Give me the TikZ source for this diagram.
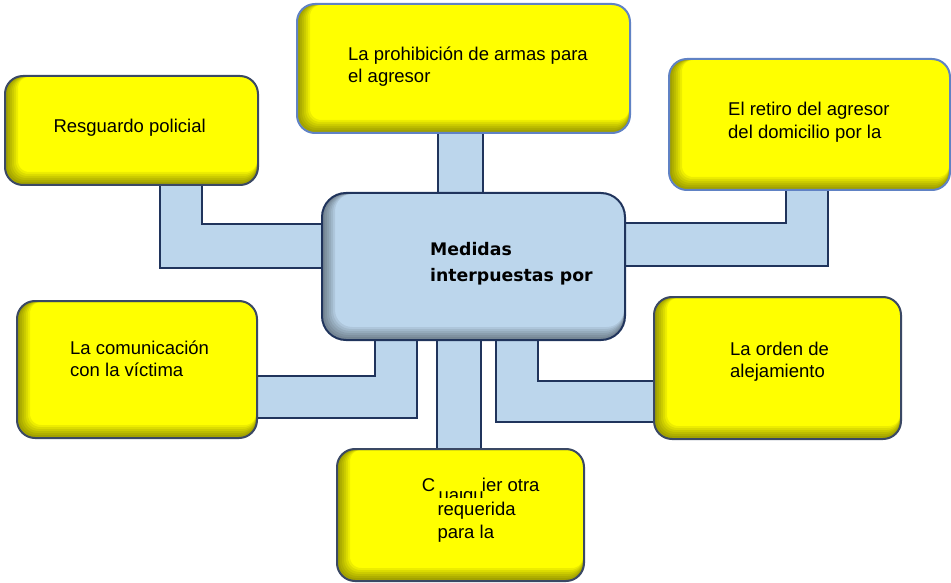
\documentclass[tikz,border=0pt]{standalone}
\usepackage{fontspec}
\setmainfont{Liberation Sans}
\newfontfamily\medidasfont{DejaVu Sans}
\usetikzlibrary{backgrounds}
\definecolor{amarillo}{RGB}{255,255,0}
\definecolor{celeste}{RGB}{188,214,236}
\definecolor{marino}{RGB}{32,52,92}
\definecolor{pizarra}{RGB}{58,72,100}
\definecolor{azulclaro}{RGB}{96,130,196}

\begin{document}
\begin{tikzpicture}[x=1pt, y=-1pt,
    sombra/.style={path picture={
        \foreach \s/\w in {1/4,2/6,3/8,4/10,5/12,6/14}
            \draw[line width=\w pt, black, draw opacity=0.07, rounded corners=#1]
                ([shift={(\s pt,\s pt)}]path picture bounding box.south west) rectangle
                ([shift={(\s pt,\s pt)}]path picture bounding box.north east);
    }},
    caja/.style={rectangle, rounded corners=18pt, draw=pizarra, line width=2pt, fill=amarillo, inner sep=0pt, outer sep=0pt, sombra=18pt},
    cajaclara/.style={caja, draw=azulclaro},
    central/.style={caja, fill=celeste, draw=marino, rounded corners=24pt, sombra=24pt},
    texto/.style={inner sep=0pt, align=left, anchor=west, font=\fontsize{18.5}{22.5}\selectfont},
    titulo/.style={texto, font=\medidasfont\bfseries\fontsize{17.3}{26}\selectfont},
    band/.style={draw=marino, fill=celeste, line width=2pt}
]
\useasboundingbox (0,0) rectangle (951,583);

\node[caja, minimum width=253pt, minimum height=109pt] (Resguardo) at (131.5,130.5) {};
\node[cajaclara, minimum width=333pt, minimum height=129pt] (Armas) at (463.5,68.5) {};
\node[cajaclara, minimum width=281pt, minimum height=131pt] (Retiro) at (809.5,124.5) {};
\node[central, minimum width=303pt, minimum height=147pt] (Medidas) at (473.5,266.5) {};
\node[caja, minimum width=240pt, minimum height=137pt] (Comunicacion) at (137,369.5) {};
\node[caja, minimum width=247pt, minimum height=142pt] (Orden) at (777.5,368) {};
\node[caja, minimum width=247pt, minimum height=132pt] (Otra) at (460.5,515) {};

% Connections
\begin{scope}[on background layer]
\draw[band] ([yshift=8pt]Resguardo.south -| 160,0) |- ([xshift=10pt]Medidas.west |- 0,268) |- (202,224) -- ([yshift=8pt]Resguardo.south -| 202,0) -- cycle;
\draw[band] ([yshift=8pt]Armas.south -| 438,0) rectangle ([yshift=-8pt]Medidas.north -| 483,0);
\draw[band] ([yshift=8pt]Retiro.south -| 828,0) |- ([xshift=-10pt]Medidas.east |- 0,266) |- (786,223) -- ([yshift=8pt]Retiro.south -| 786,0) -- cycle;
\draw[band] ([yshift=8pt]Medidas.south -| 417,0) |- ([xshift=-10pt]Comunicacion.east |- 0,418) |- (375,376) -- ([yshift=8pt]Medidas.south -| 375,0) -- cycle;
\draw[band] ([yshift=8pt]Medidas.south -| 437,0) rectangle ([yshift=-8pt]Otra.north -| 481,0);
\draw[band] ([yshift=8pt]Medidas.south -| 496,0) |- ([xshift=10pt]Orden.west |- 0,422) |- (538,381) -- ([yshift=8pt]Medidas.south -| 538,0) -- cycle;
\end{scope}

% Labels
\node[texto] (ResguardoTxt) at (53.3,128) {Resguardo policial};
\node[texto] (ArmasTxt) at (348,66.4) {La prohibición de armas para\\el agresor};
\node[texto] (RetiroTxt) at (728,122.2) {El retiro del agresor\\del domicilio por la};
\node[titulo] (MedidasTxt) at (430,263.5) {Medidas\\interpuestas por};
\node[texto] (ComunicacionTxt) at (70,358.8) {La comunicación\\con la víctima};
\node[texto] (OrdenTxt) at (730,361.5) {La orden de\\alejamiento};

\node[texto, anchor=base west] (OtraC) at (421.7,491.7) {C};
\node[texto, anchor=base west] (OtraIer) at (481.7,491.7) {ier otra};
\node[texto, anchor=base west] (OtraReq) at (437.3,515.7) {requerida};
\node[texto, anchor=base west] (OtraPara) at (437.3,538.3) {para la};
\begin{scope}
    \clip (430,491) rectangle (486,497.5);
    \node[texto, anchor=base west] (OtraQu) at (438.3,501.7) {ualqu};
\end{scope}

\end{tikzpicture}
\end{document}
